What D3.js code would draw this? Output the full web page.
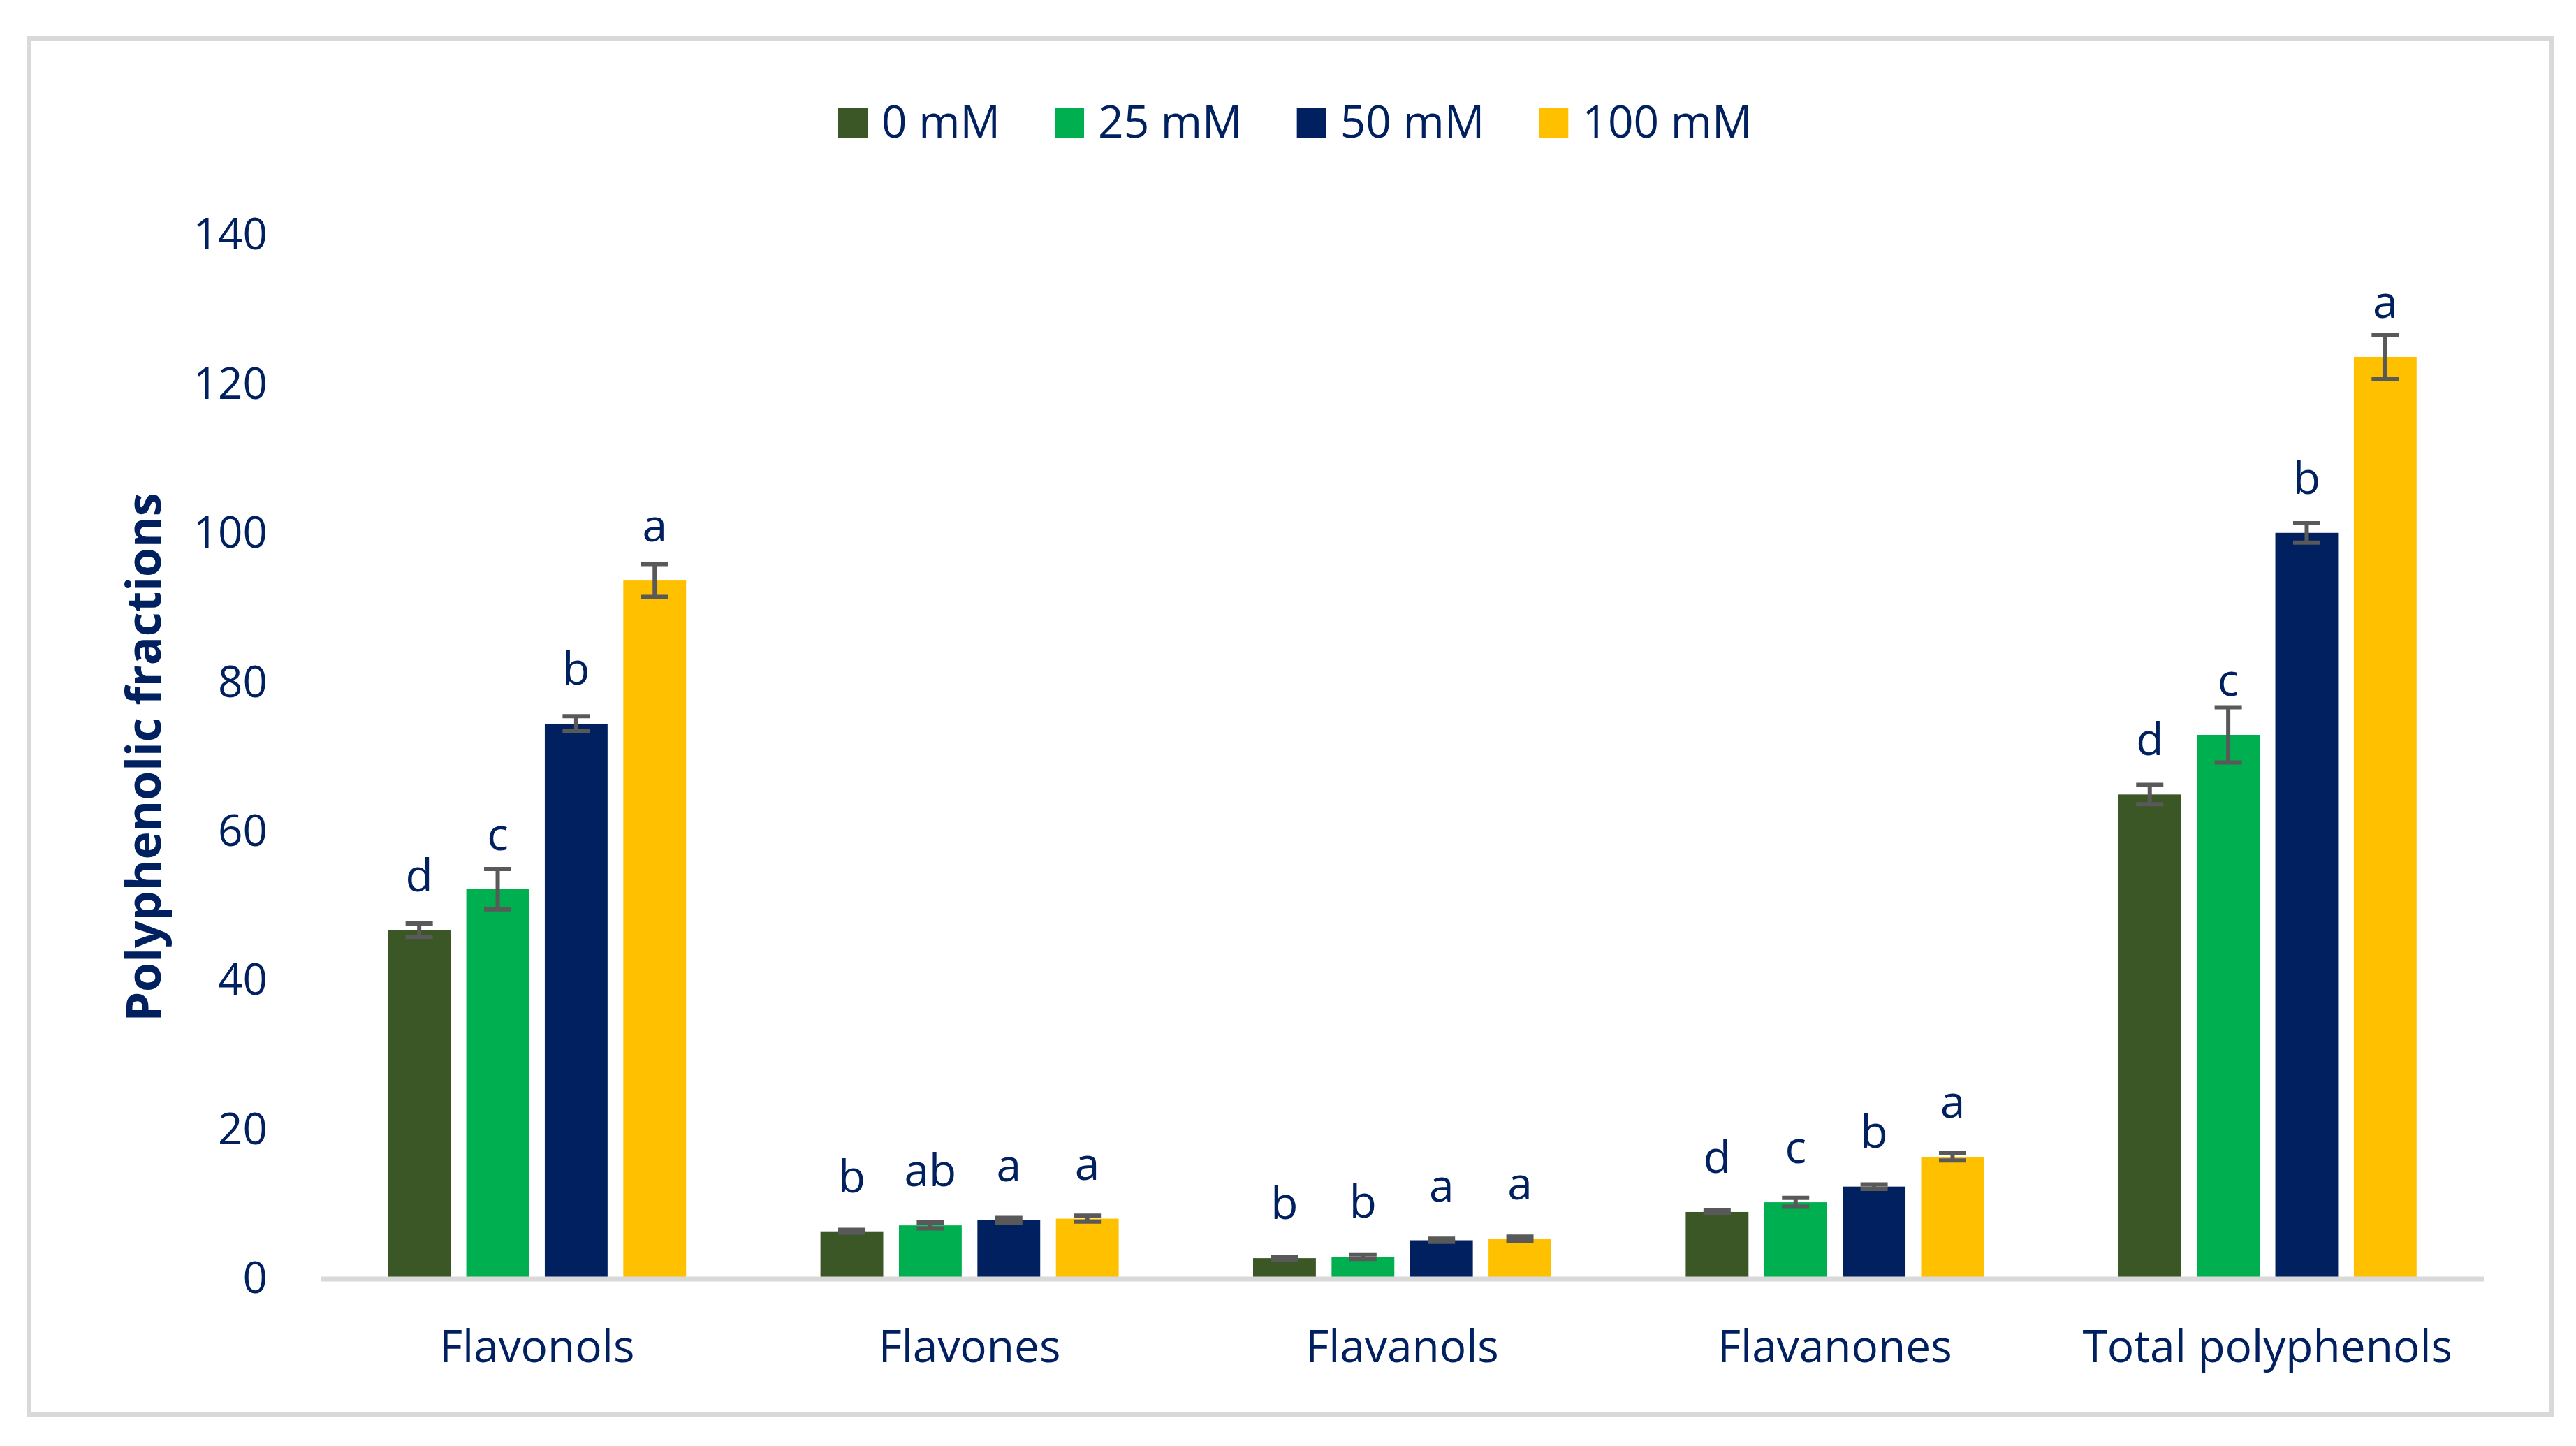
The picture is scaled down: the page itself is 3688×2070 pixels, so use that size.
<!DOCTYPE html>
<html>
<head>
<meta charset="utf-8">
<script src="https://cdn.jsdelivr.net/npm/d3@7"></script>
<style>
  html, body { margin: 0; padding: 0; background: #ffffff; }
  svg { display: block; }
  text { font-family: "Open Sans", "Noto Sans", sans-serif; fill: #002060; }
</style>
</head>
<body>
<svg id="chart" width="3688" height="2070"></svg>
<script>
// ---- data ----
const categories = ["Flavonols", "Flavones", "Flavanols", "Flavanones", "Total polyphenols"];
const seriesNames = ["0 mM", "25 mM", "50 mM", "100 mM"];
const seriesColors = ["#3B5725", "#00B050", "#002060", "#FFC000"];
const values0 = [46.8, 6.4, 2.8, 9.0, 65.0];
const values25 = [52.3, 7.2, 3.0, 10.3, 73.0];
const values50 = [74.5, 7.9, 5.2, 12.4, 100.1];
const values100 = [93.7, 8.1, 5.4, 16.4, 123.7];
const errors0 = [0.9, 0.2, 0.2, 0.2, 1.3];
const errors25 = [2.7, 0.4, 0.3, 0.6, 3.7];
const errors50 = [1.0, 0.3, 0.2, 0.3, 1.3];
const errors100 = [2.2, 0.4, 0.3, 0.5, 2.9];
const letters0 = ["d", "b", "b", "d", "d"];
const letters25 = ["c", "ab", "b", "c", "c"];
const letters50 = ["b", "a", "a", "b", "b"];
const letters100 = ["a", "a", "a", "a", "a"];
const yTicks = [0, 20, 40, 60, 80, 100, 120, 140];
const yTitle = "Polyphenolic fractions";

const seriesValues = [values0, values25, values50, values100];
const seriesErrors = [errors0, errors25, errors50, errors100];
const seriesLetters = [letters0, letters25, letters50, letters100];

// ---- layout ----
const W = 3688, H = 2070;
const plotLeft = 459, plotRight = 3556;
const yZero = 1831, yTop = 337;
const groupWidth = 427;

const svg = d3.select("#chart");

// outer border
svg.append("rect")
  .attr("x", 41).attr("y", 55)
  .attr("width", 3612).attr("height", 1970)
  .attr("fill", "none").attr("stroke", "#D9D9D9").attr("stroke-width", 6);

const x0 = d3.scaleBand().domain(categories).range([plotLeft, plotRight]).padding(0);
const x1 = d3.scaleBand().domain(seriesNames)
  .range([(x0.bandwidth() - groupWidth) / 2, (x0.bandwidth() + groupWidth) / 2])
  .paddingInner(0.2).paddingOuter(0);
const y = d3.scaleLinear().domain([0, 140]).range([yZero, yTop]);

// rows
const rows = [];
seriesNames.forEach((s, si) => {
  categories.forEach((c, ci) => {
    rows.push({
      series: s, si, cat: c,
      value: seriesValues[si][ci],
      err: seriesErrors[si][ci],
      letter: seriesLetters[si][ci]
    });
  });
});

// bars
svg.append("g").selectAll("rect")
  .data(rows).join("rect")
  .attr("x", d => x0(d.cat) + x1(d.series))
  .attr("y", d => y(d.value))
  .attr("width", x1.bandwidth())
  .attr("height", d => yZero - y(d.value))
  .attr("fill", d => seriesColors[d.si]);

// x axis line
svg.append("line")
  .attr("x1", plotLeft).attr("x2", plotRight)
  .attr("y1", yZero).attr("y2", yZero)
  .attr("stroke", "#D9D9D9").attr("stroke-width", 7);

// error bars
const capHalf = 19.5;
const eg = svg.append("g").attr("stroke", "#595959").attr("stroke-width", 6).attr("fill", "none");
rows.forEach(d => {
  const cx = x0(d.cat) + x1(d.series) + x1.bandwidth() / 2;
  const yHi = y(d.value + d.err), yLo = y(d.value - d.err);
  eg.append("line").attr("x1", cx).attr("x2", cx).attr("y1", yHi).attr("y2", yLo);
  eg.append("line").attr("x1", cx - capHalf).attr("x2", cx + capHalf).attr("y1", yHi).attr("y2", yHi);
  eg.append("line").attr("x1", cx - capHalf).attr("x2", cx + capHalf).attr("y1", yLo).attr("y2", yLo);
});

// significance letters
svg.append("g").selectAll("text")
  .data(rows).join("text")
  .attr("x", d => x0(d.cat) + x1(d.series) + x1.bandwidth() / 2)
  .attr("y", d => y(d.value) - 56)
  .attr("text-anchor", "middle")
  .attr("font-size", 64)
  .text(d => d.letter);

// y axis (labels only)
const yAxis = d3.axisLeft(y).tickValues(yTicks).tickSize(0).tickPadding(0);
const yg = svg.append("g").attr("transform", "translate(383,0)").call(yAxis);
yg.select(".domain").remove();
yg.selectAll("text")
  .attr("font-size", 62)
  .attr("font-family", "'Open Sans', sans-serif")
  .attr("fill", "#002060");

// x axis labels
const xAxis = d3.axisBottom(x0).tickSize(0).tickPadding(0);
const xg = svg.append("g").attr("transform", `translate(0,${yZero})`).call(xAxis);
xg.select(".domain").remove();
xg.selectAll("text")
  .attr("font-size", 64)
  .attr("font-family", "'Open Sans', sans-serif")
  .attr("fill", "#002060")
  .attr("dy", null)
  .attr("y", 119);

// y title
svg.append("text")
  .attr("transform", `translate(230,${(yZero + yTop) / 2}) rotate(-90)`)
  .attr("text-anchor", "middle")
  .attr("font-size", 68)
  .attr("font-weight", "bold")
  .text(yTitle);

// legend
const lg = svg.append("g");
let lx = 1200;
seriesNames.forEach((s, i) => {
  lg.append("rect").attr("x", lx).attr("y", 155).attr("width", 42).attr("height", 42)
    .attr("fill", seriesColors[i]);
  const t = lg.append("text").attr("x", lx + 62).attr("y", 197)
    .attr("font-size", 64).text(s);
  const w = t.node().getComputedTextLength();
  lx = lx + 62 + w + 78;
});
</script>
</body>
</html>
